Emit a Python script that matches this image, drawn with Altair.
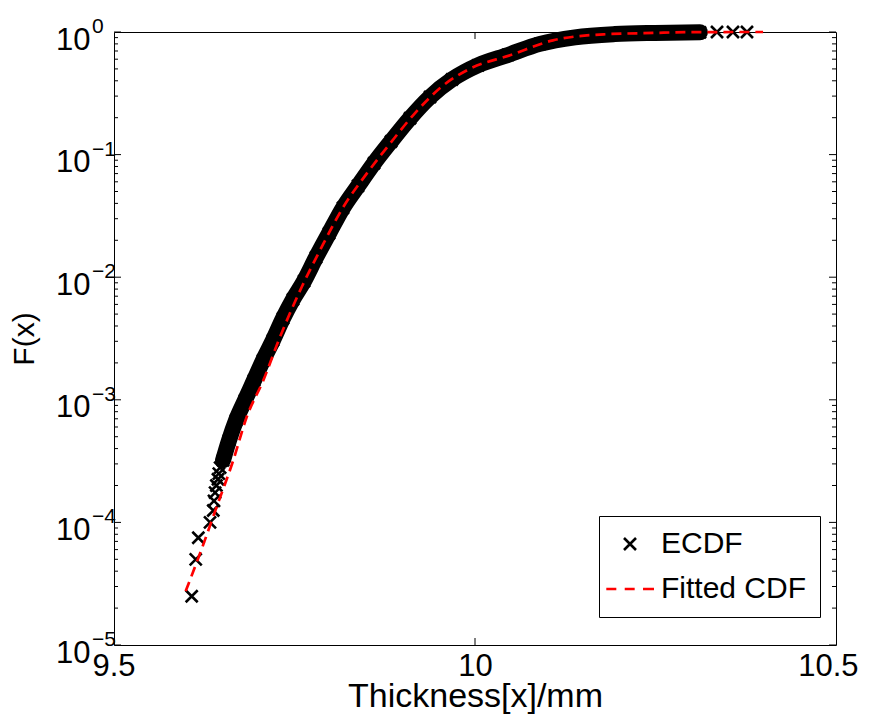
import altair as alt
import pandas as pd

# ---------------- data ----------------
# ECDF markers (x = thickness, F = empirical CDF)
ecdf_x = [9.6076, 9.6132, 9.6168, 9.6330, 9.6375, 9.6385, 9.6400, 9.6418,
          9.6440, 9.6452, 9.6470,
          9.6510, 9.6593, 9.6690, 9.6814, 9.6939, 9.7064, 9.7202, 9.7341,
          9.7479, 9.7632, 9.7798, 9.7978, 9.8172, 9.8380, 9.8601, 9.8837,
          9.9100, 9.9377, 9.9681, 10.0042, 10.0457, 10.0900, 10.1385, 10.1939,
          10.2493, 10.3116,
          10.3352, 10.3573, 10.3767]
ecdf_F = [2.5e-5, 5.0e-5, 7.5e-5, 1.0e-4, 1.25e-4, 1.5e-4, 1.75e-4, 2.0e-4,
          2.25e-4, 2.5e-4, 2.8e-4,
          3.21e-4, 4.67e-4, 6.79e-4, 9.90e-4, 1.44e-3, 2.10e-3, 3.06e-3, 4.62e-3,
          6.6e-3, 0.0093, 0.0145, 0.0228, 0.0368, 0.0555, 0.0850, 0.128,
          0.198, 0.295, 0.410, 0.535, 0.650, 0.800, 0.905, 0.962,
          0.983, 0.994,
          0.9995, 0.99975, 1.0]
# indices of the densely packed part of the ECDF (solid band of markers)
band_start, band_end = 11, 37

# fitted CDF (red dashed)
fit_x = [9.5993, 9.6191, 9.6422, 9.6652, 9.6838, 9.7068, 9.7299, 9.7600,
         9.7853, 9.8176, 9.8500, 9.8823, 9.9145, 9.9561, 9.9931, 10.0485,
         10.108, 10.178, 10.2465, 10.30, 10.399]
fit_F = [2.75e-5, 5.57e-5, 1.34e-4, 3.21e-4, 7.24e-4, 1.44e-3, 3.25e-3, 8.32e-3,
         0.01656, 0.0374, 0.0700, 0.123, 0.210, 0.367, 0.502, 0.646,
         0.855, 0.957, 0.982, 0.9987, 0.99997]

series_names = ["ECDF", "Fitted CDF"]
x_tick_values = [9.5, 10.0, 10.5]
x_inner_ticks = [10.0]
y_tick_values = [1e-5, 1e-4, 1e-3, 1e-2, 1e-1, 1.0]
y_exponents = ["\u22125", "\u22124", "\u22123", "\u22122", "\u22121", "0"]
y_minor_ticks = [m * 10.0 ** e for e in range(-5, 0) for m in range(2, 10)]

# ---------------- chart ----------------
W, H = 722, 613
FONT = "Liberation Sans"

xs = alt.Scale(domain=[9.5, 10.5], nice=False, zero=False)
ys = alt.Scale(type="log", domain=[1e-5, 1.0], nice=False)

x_enc = alt.X("x:Q", scale=xs, axis=alt.Axis(
    values=x_tick_values, format="~g", ticks=False, tickSize=0, domain=False,
    grid=False, labelFlush=True, labelFlushOffset=22, labelOverlap=False,
    labelFont=FONT, labelFontSize=31, labelColor="black", labelPadding=6,
    title="Thickness[x]/mm", titleFont=FONT, titleFontSize=34,
    titleFontWeight="normal", titleColor="black", titleY=51,
    titleBaseline="middle"))
y_enc = alt.Y("F:Q", scale=ys, axis=alt.Axis(
    values=y_tick_values, labelExpr="'10'", ticks=False, tickSize=0,
    domain=False, grid=False, labelOverlap=False, labelFont=FONT,
    labelFontSize=31, labelColor="black", labelPadding=24, labelOffset=8,
    labelBaseline="middle", labelAlign="right",
    title="F(x)", titleFont=FONT, titleFontSize=30, titleFontWeight="normal",
    titleColor="black", titleX=-90, titleY=H / 2, titleBaseline="middle"))

ecdf_df = pd.DataFrame({"x": ecdf_x, "F": ecdf_F, "series": "ECDF"})
band_df = ecdf_df.iloc[band_start:band_end]
fit_df = pd.DataFrame({"x": fit_x, "F": fit_F})

X_PATH = "M-1,-1L1,1M-1,1L1,-1"
DASH_PATH = "M-3.95,0L-2.28,0M-0.88,0L0.78,0M2.17,0L4,0"

leg = alt.Legend(title=None, orient="none", legendX=485, legendY=484,
                 fillColor="white", strokeColor="black", padding=13,
                 rowPadding=15, symbolSize=144, symbolStrokeWidth=2.6,
                 symbolOffset=3, labelOffset=16, labelFont=FONT,
                 labelFontSize=30, labelColor="black", labelLimit=400)

band = alt.Chart(band_df).mark_line(
    color="black", strokeWidth=16, strokeCap="round", interpolate="monotone"
).encode(x=x_enc, y=y_enc)

pts = alt.Chart(ecdf_df).mark_point(
    filled=False, strokeWidth=2.6, size=144, opacity=1
).encode(
    x=x_enc, y=y_enc,
    color=alt.Color("series:N", scale=alt.Scale(domain=series_names,
                    range=["black", "#ff0000"]), legend=leg),
    shape=alt.Shape("series:N", scale=alt.Scale(domain=series_names,
                    range=[X_PATH, DASH_PATH]), legend=leg),
)

fit = alt.Chart(fit_df).mark_line(
    color="#ff0000", strokeWidth=2.7, strokeDash=[10, 6], interpolate="monotone"
).encode(x=x_enc, y=y_enc)

ymaj_df = pd.DataFrame({"F": y_tick_values})
ymin_df = pd.DataFrame({"F": y_minor_ticks})
xt_df = pd.DataFrame({"x": x_inner_ticks})
rule = dict(color="black", strokeWidth=1)

ticks = [
    alt.Chart(ymaj_df).mark_rule(**rule).encode(y=y_enc, x=alt.value(0), x2=alt.value(7)),
    alt.Chart(ymaj_df).mark_rule(**rule).encode(y=y_enc, x=alt.value(W - 7), x2=alt.value(W)),
    alt.Chart(ymin_df).mark_rule(**rule).encode(y=y_enc, x=alt.value(0), x2=alt.value(4)),
    alt.Chart(ymin_df).mark_rule(**rule).encode(y=y_enc, x=alt.value(W - 4), x2=alt.value(W)),
    alt.Chart(xt_df).mark_rule(**rule).encode(x=x_enc, y=alt.value(H - 7), y2=alt.value(H)),
    alt.Chart(xt_df).mark_rule(**rule).encode(x=x_enc, y=alt.value(0), y2=alt.value(7)),
]

exp_df = pd.DataFrame({"F": y_tick_values, "e": y_exponents})
exps = alt.Chart(exp_df).mark_text(
    align="left", baseline="middle", font=FONT, fontSize=21, color="black", dy=-5
).encode(y=y_enc, x=alt.value(-22), text="e:N")

chart = alt.layer(band, pts, fit, *ticks, exps).properties(
    width=W, height=H,
    autosize=alt.AutoSizeParams(type="none"),
    padding={"left": 106, "top": 24, "right": 27, "bottom": 75},
    background="white",
).configure_view(stroke="black", strokeWidth=1)

chart.save("out.html", embed_options={"renderer": "svg", "actions": False})
